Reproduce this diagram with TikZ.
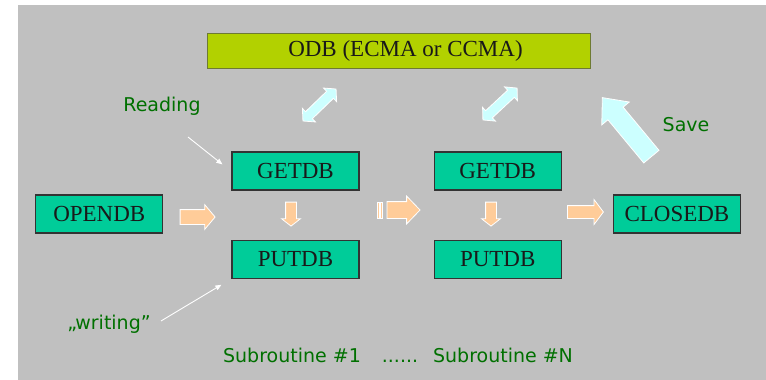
\documentclass[tikz,border=0pt]{standalone}
\usepackage{fontspec}
\setmainfont{Liberation Serif}
\newfontfamily\notefont{DejaVu Sans}
\usetikzlibrary{positioning,arrows.meta,shapes.arrows}
\definecolor{bgGray}{HTML}{C0C0C0}
\definecolor{blockFill}{HTML}{00CC99}
\definecolor{blockBorder}{HTML}{333333}
\definecolor{odbFill}{HTML}{B2D100}
\definecolor{odbBorder}{HTML}{6E7A33}
\definecolor{flowFill}{HTML}{FFCC99}
\definecolor{syncFill}{HTML}{CCFFFF}
\definecolor{noteText}{HTML}{007000}

\begin{document}
\begin{tikzpicture}[
    x=1pt, y=-1pt,
    block/.style={
        rectangle, draw=blockBorder, fill=blockFill,
        minimum width=127pt, minimum height=38pt, inner sep=0pt,
        line width=1.2pt, text=black!90,
        font=\fontsize{23}{27}\selectfont
    },
    flow/.style={
        single arrow, draw=white, fill=flowFill, line width=0.8pt,
        inner xsep=0pt, single arrow head indent=0pt
    },
    sync/.style={
        double arrow, draw=white, fill=syncFill, line width=0.8pt,
        inner xsep=0pt, double arrow head indent=0pt
    },
    note/.style={anchor=base, text=noteText, font=\notefont\fontsize{19}{23}\selectfont},
    pointer/.style={-{Triangle[length=6pt,width=5pt]}, draw=white, line width=0.9pt}
]
  \useasboundingbox (0,0) rectangle (766,380);
  \fill[bgGray] (18,5) rectangle (766,380);

  % Nodes
  \node[block, fill=odbFill, draw=odbBorder, minimum width=383pt, minimum height=35pt, line width=1pt] (odb) at (398.5,50.5) {\hspace*{14pt}ODB (ECMA or CCMA)};

  \node[block] (get1) at (295.5,171) {GETDB};
  \node[block, below=49pt of get1] (put1) {PUTDB};
  \node[block, right=74pt of get1] (get2) {GETDB};
  \node[block, below=49pt of get2] (put2) {PUTDB};

  \node[block, left=68pt of get1, yshift=-43pt] (open) {OPENDB};
  \node[block, right=51pt of get2, yshift=-43pt] (close) {CLOSEDB};

  % Block arrows along the flow
  \node[flow, minimum height=35pt, inner ysep=7pt, single arrow head extend=5pt, single arrow tip angle=100] (go1) at (194.5,217) {};
  \node[flow, minimum height=33pt, inner ysep=8pt, single arrow head extend=5.5pt, single arrow tip angle=92] (go2) at (399.5,210) {};
  \filldraw[fill=flowFill, draw=white, line width=0.6pt] (377,202) rectangle (379.5,218) (380.5,202) rectangle (382.5,218);
  \node[flow, minimum height=36pt, inner ysep=6pt, single arrow head extend=6pt, single arrow tip angle=106] (go3) at (583,212) {};

  \node[flow, rotate=-90, minimum height=24pt, inner ysep=5pt, single arrow head extend=4pt, single arrow tip angle=104] (down1) at (291,212) {};
  \node[flow, rotate=-90, minimum height=24pt, inner ysep=5pt, single arrow head extend=4pt, single arrow tip angle=104] (down2) at (491,212) {};

  % Exchange with the ODB
  \node[sync, rotate=44, minimum height=46pt, inner ysep=4.5pt, double arrow head extend=4.5pt, double arrow tip angle=97] (sync1) at (319.5,105) {};
  \node[sync, rotate=43, minimum height=46.7pt, inner ysep=4.5pt, double arrow head extend=4.5pt, double arrow tip angle=97] (sync2) at (500,104) {};
  \node[flow, fill=syncFill, rotate=129.7, minimum height=76.7pt, inner ysep=9.5pt, single arrow head extend=8pt, single arrow tip angle=82] (push) at (630.5,131.5) {};

  % Labels
  \node[note] (reading) at (162,111) {Reading};
  \node[note] (save) at (686,131) {Save};
  \node[note] (writing) at (109,329) {„writing”};
  \node[note] (sub1) at (292,362.5) {Subroutine \#1};
  \node[note] (dots) at (400,362.5) {......};
  \node[note] (subn) at (503,362.5) {Subroutine \#N};

  % Pointers
  \coordinate (rdfrom) at (188,137);
  \coordinate (wrfrom) at (161,321);
  \draw[pointer] (rdfrom) -- ([shift={(-9,13)}]get1.north west);
  \draw[pointer] (wrfrom) -- ([shift={(-10,6)}]put1.south west);

\end{tikzpicture}
\end{document}
